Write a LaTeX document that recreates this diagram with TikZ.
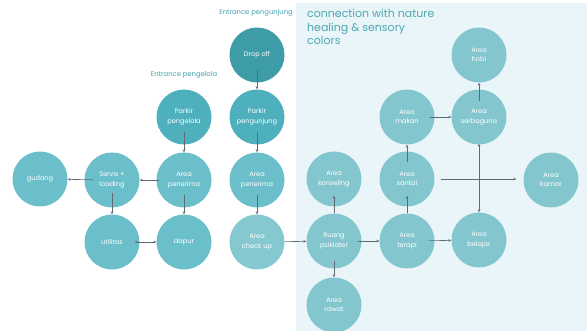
\documentclass[tikz,border=0pt]{standalone}
\usepackage{fontspec}
\setmainfont{Poppins}
\usetikzlibrary{arrows.meta}
\definecolor{dropc}{HTML}{3E9CA7}
\definecolor{parkc}{HTML}{4DB0BC}
\definecolor{midc}{HTML}{6BBFCA}
\definecolor{checkc}{HTML}{85C8D0}
\definecolor{rightc}{HTML}{83C6CE}
\definecolor{panelc}{HTML}{E9F5F8}
\definecolor{titlec}{HTML}{4DA7B2}
\definecolor{labelc}{HTML}{3FA3AE}
\definecolor{linec}{HTML}{5F6B70}
\tikzset{
  room/.style={circle, minimum size=55pt, inner sep=0pt, text=white,
    align=center, font=\fontsize{6.6pt}{9.3pt}\selectfont},
  conn/.style={draw=linec, line width=0.6pt,
    -{Stealth[length=3pt,width=2.6pt]}},
  both/.style={draw=linec, line width=0.6pt,
    {Stealth[length=3pt,width=2.6pt]}-{Stealth[length=3pt,width=2.6pt]}},
  entry/.style={text=labelc, font=\fontsize{6.8pt}{8pt}\selectfont, inner sep=0pt},
  headline/.style={text=titlec, font=\fontsize{11pt}{13.7pt}\selectfont,
    anchor=base west, inner sep=0pt}
}
\begin{document}
\begin{tikzpicture}[x=1pt,y=-1pt]
\useasboundingbox (0,0) rectangle (587,331);
\fill[white] (0,0) rectangle (587,331);
% light zone on the right
\fill[panelc] (296,3) rectangle (587,331);

% headings
\node[headline] (t1) at (307,17.5) {connection with nature};
\node[headline] (t2) at (307,31.2) {healing \& sensory};
\node[headline] (t3) at (307,44.9) {colors};
\node[entry] (e1) at (256,13) {Entrance pengunjung};
\node[entry] (e2) at (184,75) {Entrance pengelola};

% service side
\node[room, fill=dropc] (drop) at (257,55) {Drop off};
\node[room, fill=parkc] (pkv) at (257,117) {Parkir\\pengunjung};
\node[room, fill=parkc] (pkm) at (184,117) {Parkir\\pengelola};
\node[room, fill=midc] (gud) at (40,179) {gudang};
\node[room, fill=midc] (serv) at (112,180) {Servis +\\loading};
\node[room, fill=midc] (penL) at (184,180) {Area\\penerima};
\node[room, fill=midc] (penR) at (257,180) {Area\\penerima};
\node[room, fill=midc] (util) at (112,242) {utilitas};
\node[room, fill=midc] (dap) at (184,242) {dapur};
\node[room, fill=checkc] (chk) at (257,242) {Area\\check up};

% healing side
\node[room, fill=rightc] (psi) at (334,241) {Ruang\\psikiater};
\node[room, fill=rightc] (ter) at (407,241) {Area\\terapi};
\node[room, fill=rightc] (bel) at (479,240) {Area\\belajar};
\node[room, fill=rightc] (kon) at (334,179) {Area\\konseling};
\node[room, fill=rightc] (san) at (407,179) {Area\\santai};
\node[room, fill=rightc] (kam) at (551,180) {Area\\kamar};
\node[room, fill=rightc] (raw) at (334,305) {Area\\rawat};
\node[room, fill=rightc] (mak) at (407,117) {Area\\makan};
\node[room, fill=rightc] (ser) at (479,117) {Area\\serbaguna};
\node[room, fill=rightc] (hob) at (479,55) {Area\\hobi};

% connections
\draw[conn, shorten <=-13pt] (drop) -- (pkv);
\draw[conn, shorten <=-13pt] (pkv) -- (penR);
\draw[conn, shorten <=-13pt] (pkm) -- (penL);
\draw[conn, shorten <=-3pt] (penL) -- (serv);
\draw[conn, shorten <=-9pt] (serv) -- (gud);
\draw[conn, shorten <=-15pt] (serv) -- (util);
\draw[conn, shorten <=-13pt] (penL) -- (dap);
\draw[both, shorten <=-5pt] (util) -- (dap);
\draw[conn, shorten <=-13pt] (penR) -- (chk);
\draw[conn] (chk) -- (psi);
\draw[conn, shorten <=-4pt] (psi) -- (ter);
\draw[conn, shorten <=-6pt] (ter) -- (bel);
\draw[conn, shorten >=-11pt] (psi) -- (kon);
\draw[conn, shorten <=-8pt] (psi) -- (raw);
\draw[conn, shorten >=-11pt] (ter) -- (san);
\draw[conn, shorten <=-11pt] (san) -- (mak);
\draw[conn, shorten <=-5pt] (mak) -- (ser);
\draw[conn, shorten <=-12pt] (ser) -- (hob);
\draw[both, shorten <=-1pt] (ser) -- (bel);
\draw[conn, shorten <=6pt, shorten >=7pt] (san.east) -- (kam.west |- san.east);
\end{tikzpicture}
\end{document}
